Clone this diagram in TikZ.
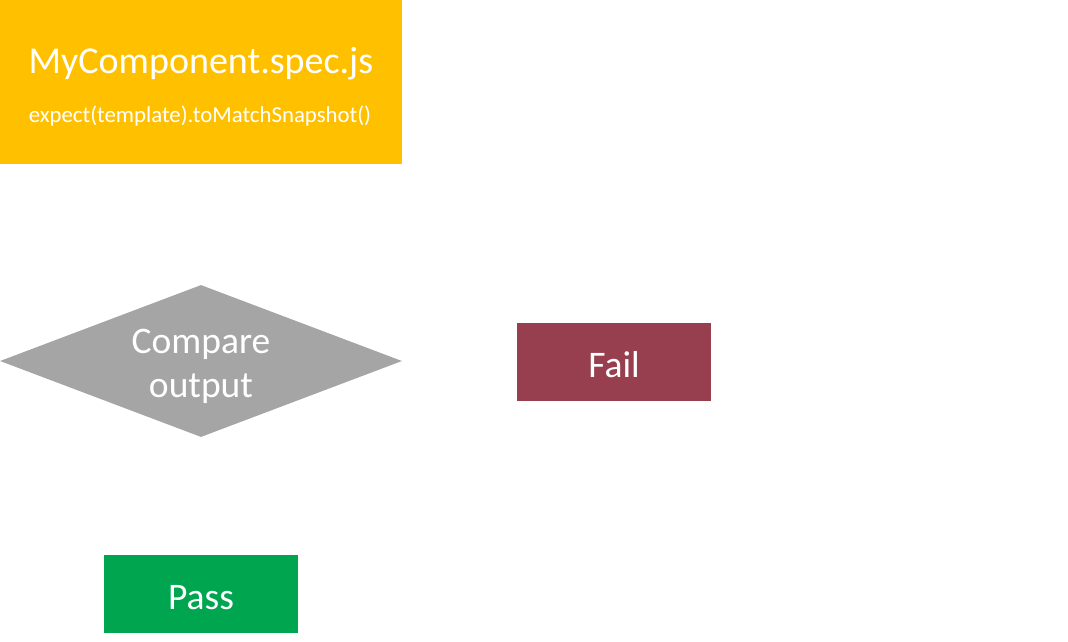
\documentclass[tikz,border=0pt]{standalone}
\usepackage{fontspec}
\setmainfont{Carlito}
\usetikzlibrary{shapes.geometric}
\definecolor{cyellow}{HTML}{FFC000}
\definecolor{cgray}{HTML}{A5A5A5}
\definecolor{cfail}{HTML}{983F4F}
\definecolor{cpass}{HTML}{00A550}
\tikzset{
  box/.style={rectangle, draw=none, inner sep=0pt, text=white, text height=31pt, text depth=0pt, font=\fontsize{37.5}{44}\selectfont},
}
\begin{document}
\begin{tikzpicture}[x=1pt,y=1pt]
\useasboundingbox (0,0) rectangle (1068,-642);
\node[box, fill=cyellow, minimum width=402pt, minimum height=164pt] (spec) at (201,-82) {};
\node[text=white, font=\fontsize{38}{44}\selectfont, inner sep=0pt] (title) at (201,-64) {MyComponent.spec.js};
\node[text=white, font=\fontsize{22.8}{26}\selectfont, inner sep=0pt] (sub) at (200,-116) {expect(template).toMatchSnapshot()};
\node[diamond, fill=cgray, aspect=2.645, minimum width=402pt, minimum height=152pt, inner sep=0pt] (cmp) at (201,-361) {};
\node[text=white, align=center, inner sep=0pt, font=\fontsize{37.5}{44}\selectfont] (cmptext) at (cmp.center) [yshift=-5pt] {Compare\\output};
\node[box, fill=cfail, minimum width=194pt, minimum height=78pt] (fail) at (614,-362) {Fail};
\node[box, fill=cpass, minimum width=194pt, minimum height=78pt] (pass) at (201,-594) {Pass};
\end{tikzpicture}
\end{document}
